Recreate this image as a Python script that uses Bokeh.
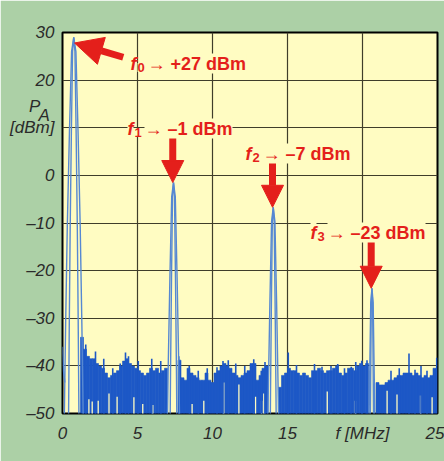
from bokeh.plotting import figure
from bokeh.models import Range1d, FixedTicker, Label, Arrow, NormalHead
from bokeh.embed import file_html
from bokeh.resources import INLINE

# ---------------- data ----------------
peak_names = ["0", "1", "2", "3"]
peak_freq = [0.75, 7.40, 14.05, 20.63]          # MHz
peak_dbm = [29.0, -1.5, -6.7, -23.7]            # dBm (drawn peak tops)
peak_text = ["\u2192 +27 dBm", "\u2192 \u20131 dBm", "\u2192 \u20137 dBm", "\u2192 \u201323 dBm"]
peak_width = [1.8, 1.5, 1.4, 1.0]               # relative widening of each peak skirt
leg_drop = [0, 3, 20, 40, 60, 80]               # dB below peak
leg_half = [0.0, 0.08, 0.16, 0.24, 0.30, 0.35]  # MHz half width of skirt

start_freq = [0.0, 0.07, 0.15]
start_dbm = [-36.0, -41.0, -43.5]

noise_step = 0.2
noise_a_start = 1.3
noise_a_top = [-34.0, -36.5, -38.0, -38.5, -38.5, -39.5, -40.0, -40.5, -41.5, -42.5,
               -42.0, -41.5, -41.0, -40.0, -39.0, -38.5, -39.5, -40.0, -40.5, -41.0,
               -41.5, -42.0, -41.5, -40.5, -41.0, -40.5, -41.5, -41.0, -40.5]
noise_b_start = 7.8
noise_b_top = [-38.8, -42.5, -43.0, -40.5, -41.5, -42.0, -42.5, -43.0, -43.0, -41.5,
               -43.0, -43.5, -41.5, -41.0, -40.0, -39.5, -40.0, -40.5, -41.5, -42.0,
               -42.5, -42.0, -41.5, -41.0, -39.5, -39.5, -43.0, -42.0, -40.5, -40.0]
noise_c_start = 14.5
noise_c_top = [-44.5, -42.0, -41.5, -40.5, -41.0, -41.0, -41.5, -42.0, -41.5, -42.0,
               -42.5, -41.0, -41.0, -40.5, -41.0, -41.5, -41.0, -41.0, -40.5, -40.0,
               -41.5, -42.0, -41.5, -40.5, -40.5, -41.0, -40.0, -39.5, -40.0, -39.5]
noise_d_start = 21.0
noise_d_top = [-43.5, -44.0, -44.0, -43.5, -43.0, -43.0, -42.5, -42.0, -42.0, -41.5,
               -41.5, -41.5, -42.0, -41.5, -42.0, -42.5, -42.0, -42.5, -42.0, -40.5]

# isolated tall noise spikes
spike_freq = [1.55, 2.2, 2.75, 3.35, 3.85, 4.2, 4.4, 5.05, 5.95, 6.55,
              7.75, 8.45, 9.05, 9.65, 10.3, 10.7, 11.05, 11.55, 12.15, 12.75, 13.25, 13.5,
              15.05, 15.6, 16.8, 17.3, 17.9, 18.35, 18.8, 19.25, 19.55, 19.95, 20.3,
              21.9, 22.45, 23.1, 23.5, 23.9, 24.3, 24.95]
spike_dbm = [-35.5, -37.0, -38.5, -40.5, -39.5, -37.2, -38.0, -39.0, -38.5, -39.0,
             -38.0, -40.0, -41.0, -40.5, -40.3, -39.0, -38.8, -39.5, -40.0, -38.6, -41.0, -39.2,
             -37.2, -39.8, -39.6, -40.2, -40.0, -39.6, -40.5, -40.2, -39.2, -38.9, -38.8,
             -41.0, -40.5, -37.4, -40.8, -40.0, -41.0, -38.3]
# thin notches where the trace minima stay above the floor
gap_freq = [1.76, 1.98, 2.38, 3.1, 3.64, 4.76, 5.35, 6.02, 8.64, 9.42, 10.75,
            11.76, 12.87, 13.27, 13.42, 17.65, 19.53, 21.64, 22.3, 23.87, 24.64]
gap_dbm = [-47.0, -47.5, -47.3, -45.8, -46.5, -46.6, -48.0, -48.2, -48.0, -47.3, -43.5,
           -43.9, -46.5, -47.3, -45.8, -45.4, -47.3, -45.2, -46.0, -46.2, -46.6]

x_ticks = [0, 5, 10, 15, 20, 25]
y_ticks = [-50, -40, -30, -20, -10, 0, 10, 20, 30]
y_title_ticks = [14.4, 12.6]                    # where "P" and its subscript "A" sit
y_title_text = ["P\u00a0\u00a0\u00a0", "A\u00a0"]

# ---------------- styling ----------------
BG_OUT = "#acd0a6"
BG_PLOT = "#fffcc2"
NOISE = "#1d58c6"
PEAK = "#5688d2"
RED = "#e41f1b"
TXT = "#2a2a2a"
FONT = "Liberation Sans"

p = figure(width=444, height=461, x_range=Range1d(0, 25), y_range=Range1d(-50, 30),
           output_backend="svg", toolbar_location=None,
           min_border_left=62, min_border_right=7, min_border_top=32, min_border_bottom=48,
           background_fill_color=BG_PLOT, border_fill_color=BG_OUT)
p.outline_line_color = "black"
p.outline_line_width = 2

p.xaxis.ticker = FixedTicker(ticks=x_ticks)
p.yaxis.ticker = FixedTicker(ticks=y_ticks + y_title_ticks)
p.xgrid.ticker = FixedTicker(ticks=x_ticks)
p.ygrid.ticker = FixedTicker(ticks=y_ticks)
p.xaxis.major_label_overrides = {20: "f [MHz]"}
yo = {}
for t in y_ticks:
    yo[t] = ("\u2013" + str(-t)) if t < 0 else str(t)
yo[10] = "[dBm]"
for t, s in zip(y_title_ticks, y_title_text):
    yo[t] = s
p.yaxis.major_label_overrides = yo
for ax in (p.xaxis, p.yaxis):
    ax.axis_line_color = None
    ax.major_tick_line_color = None
    ax.minor_tick_line_color = None
    ax.major_tick_out = 0
    ax.major_tick_in = 0
    ax.major_label_text_font = FONT
    ax.major_label_text_font_style = "italic"
    ax.major_label_text_font_size = "17px"
    ax.major_label_text_color = TXT
p.xaxis.major_label_standoff = 10
p.yaxis.major_label_standoff = 8
p.grid.grid_line_color = "#3f3d2a"
p.grid.grid_line_width = 1.2

# noise floor bars
for start, tops in ((noise_a_start, noise_a_top), (noise_b_start, noise_b_top),
                    (noise_c_start, noise_c_top), (noise_d_start, noise_d_top)):
    xs = [start + noise_step * i for i in range(len(tops))]
    p.vbar(x=xs, top=tops, bottom=-51, width=noise_step, fill_color=NOISE,
           line_color=NOISE, line_width=0.6)
p.segment(x0=gap_freq, y0=[-51] * len(gap_freq), x1=gap_freq, y1=gap_dbm,
          line_color=BG_PLOT, line_width=1.3)
p.segment(x0=spike_freq, y0=[-50.5] * len(spike_freq), x1=spike_freq, y1=spike_dbm,
          line_color=NOISE, line_width=1.6)

# start of trace
p.line(start_freq, start_dbm, line_color=PEAK, line_width=1.6)

# peak skirts (double lines)
for f, lvl, w in zip(peak_freq, peak_dbm, peak_width):
    for k in (1.0, 0.55):
        xs = [f - h * w * k for h in reversed(leg_half)] + [f + h * w * k for h in leg_half[1:]]
        ys = [lvl - d for d in reversed(leg_drop)] + [lvl - d for d in leg_drop[1:]]
        p.line(xs, ys, line_color=PEAK, line_width=1.4)

# arrows
for i, (f, lvl) in enumerate(zip(peak_freq, peak_dbm)):
    if i == 0:
        xs, ys, xe, ye, hs = f + 3.3, lvl - 4.2, f + 0.05, lvl - 1.2, 28
    else:
        xs, ys, xe, ye, hs = f - 0.05, lvl + 10.0, f - 0.05, lvl, 22
    p.add_layout(Arrow(end=NormalHead(size=hs, fill_color=RED, line_color=RED, line_width=1),
                       x_start=xs, y_start=ys, x_end=xe, y_end=ye,
                       line_color=RED, line_width=7))

def X(px):
    return (px - 62) / 375 * 25

def Y(py):
    return 30 - (py - 32) / 381 * 80

def lab(px, py, text, size, style, color, align="left", bg=None):
    p.add_layout(Label(x=X(px), y=Y(py), text=text, text_font=FONT,
                       text_font_size=f"{size}px", text_font_style=style,
                       text_color=color, text_align=align, text_baseline="alphabetic",
                       background_fill_color=bg))

# red annotations: (f px, baseline py)
ann_pos = [(130, 63), (127, 128), (245, 153), (310, 232)]
for (fx, by), name, txt in zip(ann_pos, peak_names, peak_text):
    lab(fx + 7, by + 4, name, 13, "bold", RED, bg=BG_PLOT)
    lab(fx, by, "f", 18, "bold italic", RED, bg=BG_PLOT)
    lab(fx + 17, by, txt, 18, "bold", RED, bg=BG_PLOT)

open("out.html", "w").write(file_html(p, INLINE))
